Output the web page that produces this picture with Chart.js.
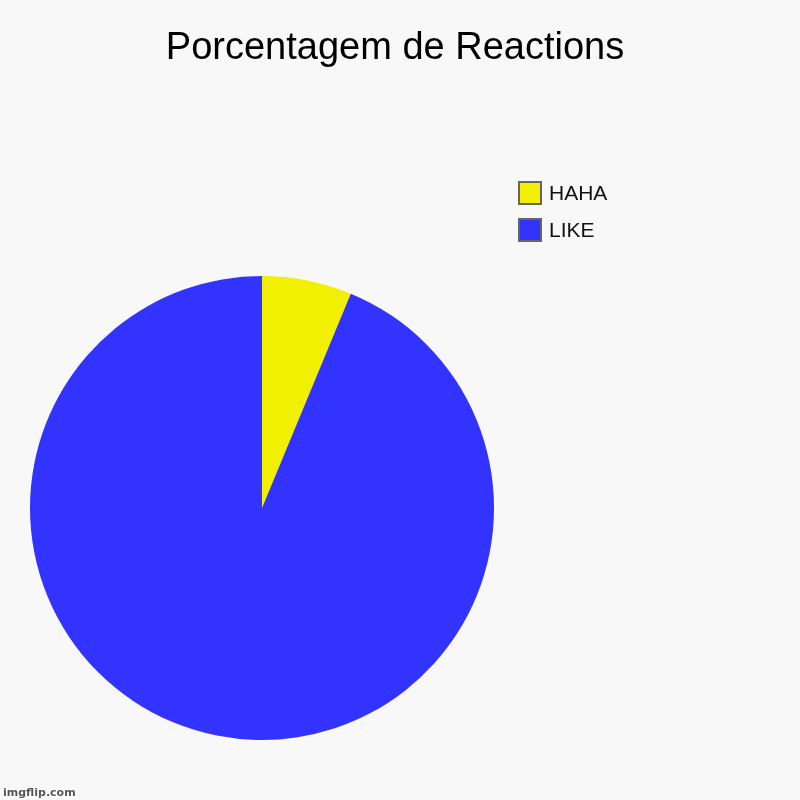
<!DOCTYPE html>
<html>
<head>
<meta charset="utf-8">
<script src="https://cdn.jsdelivr.net/npm/chart.js@4"></script>
<style>
  body { margin: 0; background: #f8f8f8; }
  canvas { display: block; }
</style>
</head>
<body>
<canvas id="pieChart" width="800" height="800"></canvas>
<script>
const chartTitle = "Porcentagem de Reactions";
const labels = ["HAHA", "LIKE"];
const values = [1, 15];
const colors = ["#f0f000", "#3333ff"];

// draws background, title, legend at top right and the watermark
const decorPlugin = {
  id: "decor",
  beforeDraw(chart) {
    const ctx = chart.ctx;
    ctx.save();
    ctx.fillStyle = "#f8f8f8";
    ctx.fillRect(0, 0, chart.width, chart.height);
    ctx.restore();
  },
  afterDraw(chart) {
    const ctx = chart.ctx;
    const ds = chart.data.datasets[0];
    ctx.save();
    // title
    ctx.fillStyle = "#000000";
    ctx.font = "38px 'Liberation Sans', Arial, sans-serif";
    ctx.textAlign = "center";
    ctx.textBaseline = "alphabetic";
    ctx.fillText(chartTitle, 395, 59);
    // legend
    chart.data.labels.forEach(function (label, i) {
      const y = 181 + i * 37;
      ctx.fillStyle = "#666666";
      ctx.fillRect(518, y, 24, 24);
      ctx.fillStyle = ds.backgroundColor[i];
      ctx.fillRect(520, y + 2, 20, 20);
      ctx.fillStyle = "#111111";
      ctx.font = "21px 'Liberation Sans', Arial, sans-serif";
      ctx.textBaseline = "alphabetic";
      ctx.textAlign = "left";
      ctx.fillText(label, 549, y + 19);
    });
    // watermark
    ctx.font = "bold 11px 'DejaVu Sans', sans-serif";
    ctx.lineWidth = 3;
    ctx.strokeStyle = "rgba(255,255,255,0.9)";
    ctx.strokeText("imgflip.com", 3, 796);
    ctx.fillStyle = "#555555";
    ctx.fillText("imgflip.com", 3, 796);
    ctx.restore();
  }
};

const ctx = document.querySelector("#pieChart").getContext("2d");
const pieChart = new Chart(ctx, {
  type: "pie",
  data: {
    labels: labels,
    datasets: [{
      data: values,
      backgroundColor: colors,
      borderWidth: 0
    }]
  },
  options: {
    responsive: false,
    animation: false,
    devicePixelRatio: 1,
    layout: {
      padding: { left: 30, right: 306, top: 276, bottom: 60 }
    },
    plugins: {
      legend: { display: false },
      tooltip: { enabled: false },
      title: { display: false }
    }
  },
  plugins: [decorPlugin]
});
</script>
</body>
</html>
